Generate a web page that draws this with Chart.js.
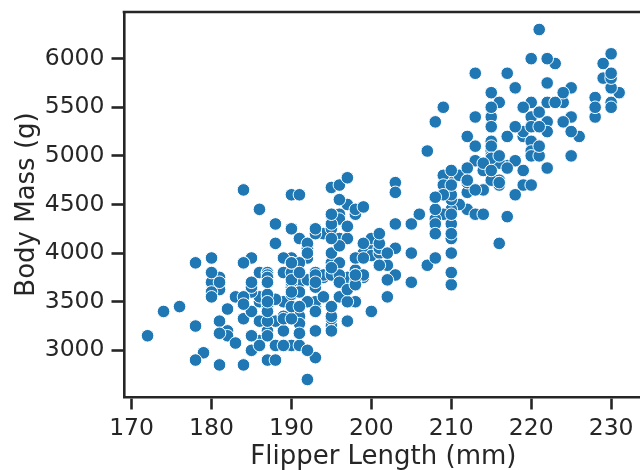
<!DOCTYPE html>
<html>
<head>
<meta charset="utf-8">
<script src="https://cdn.jsdelivr.net/npm/chart.js@4"></script>
<style>
  html, body { margin: 0; padding: 0; overflow: hidden; background: #fff; }
</style>
</head>
<body>
<canvas id="penguinChart" width="650" height="470"></canvas>
<script>
// tick labels
const xTicks = [170, 180, 190, 200, 210, 220, 230];
const yTicks = [3000, 3500, 4000, 4500, 5000, 5500, 6000];

// [flipper length (mm), body mass (g)]
const adelie = [
  [181,3750],[186,3800],[195,3250],[193,3450],[190,3650],[181,3625],[195,4675],[193,3475],[190,4250],[186,3300],
  [180,3700],[182,3200],[191,3800],[198,4400],[185,3700],[195,3450],[197,4500],[184,3325],[194,4200],[174,3400],
  [180,3600],[189,3800],[185,3950],[180,3800],[187,3800],[183,3550],[187,3200],[172,3150],[180,3950],[178,3250],
  [178,3900],[188,3300],[184,3900],[195,3325],[196,4150],[190,3950],[180,3550],[181,3300],[184,4650],[182,3150],
  [195,3900],[186,3100],[196,4400],[185,3000],[190,4600],[182,3425],[179,2975],[190,3450],[191,4150],[186,3500],
  [188,4300],[190,3450],[200,4050],[187,2900],[191,3700],[186,3550],[193,3800],[181,2850],[194,3750],[185,3150],
  [195,4400],[185,3600],[192,4050],[184,2850],[192,3950],[195,3350],[188,4100],[190,3050],[198,4450],[190,3600],
  [190,3900],[196,3550],[197,4150],[190,3700],[195,4250],[191,3700],[184,3900],[187,3550],[195,4000],[189,3200],
  [196,4700],[187,3800],[193,4200],[191,3350],[194,3550],[190,3800],[189,3500],[189,3950],[190,3600],[202,3550],
  [205,4300],[185,3400],[186,4450],[187,3300],[208,4300],[190,3700],[196,4350],[178,2900],[192,4100],[192,3725],
  [203,4725],[183,3075],[190,4250],[193,2925],[184,3550],[199,3750],[190,3900],[181,3175],[197,4775],[198,3825],
  [191,4600],[193,3200],[197,4275],[191,3900],[196,4075],[188,2900],[199,3775],[189,3350],[189,3325],[187,3150],
  [198,3500],[176,3450],[202,3875],[186,3050],[199,4000],[191,3275],[195,4300],[191,3050],[210,4000],[190,3325],
  [197,3500],[193,3500],[199,4475],[187,3425],[190,3900],[191,3175],[200,3975],[185,3400],[193,4250],[193,3400],
  [187,3475],[188,3050],[190,3725],[192,3000],[185,3650],[190,4250],[184,3475],[195,3450],[193,3750],[187,3700],
  [201,4000]
];

const chinstrap = [
  [192,3500],[196,3900],[193,3650],[188,3525],[197,3725],[198,3950],[178,3250],[197,3750],[195,4150],[198,3700],
  [193,3800],[194,3775],[185,3700],[201,4050],[190,3575],[201,4050],[197,3300],[181,3700],[190,3450],[195,4400],
  [191,3600],[187,3400],[192,2700],[195,3800],[197,3300],[200,4150],[200,3400],[191,3800],[205,3700],[187,3575],
  [201,4100],[187,3775],[203,3775],[195,3200],[199,4100],[195,3775],[210,3675],[192,4000],[205,4000],[210,3800],
  [187,3750],[196,3775],[196,3700],[196,4550],[201,4200],[190,3600],[212,4450],[187,3500],[198,3775],[199,3950],
  [201,3875],[193,3775],[203,4300],[187,3700],[197,3625],[191,3450],[203,4050],[202,3725],[194,3550],[206,4400],
  [189,3050],[195,3850],[207,3875],[202,4000],[193,3700],[210,4725],[198,3675],[198,3775]
];

const gentoo = [
  [211,4500],[230,5700],[210,4450],[218,5700],[215,5400],[210,4550],[211,4800],[219,5200],[209,4400],[215,5150],
  [214,4650],[216,5550],[214,4650],[213,5850],[210,4200],[217,5850],[210,4150],[221,6300],[209,4800],[222,5350],
  [218,5700],[215,5000],[213,4400],[215,5050],[215,5000],[215,5100],[216,4100],[215,5650],[210,4600],[220,5550],
  [222,5250],[209,4700],[207,5050],[230,6050],[220,5150],[220,5400],[213,4950],[219,5250],[208,4350],[208,5350],
  [208,3950],[225,5700],[210,4300],[216,4750],[222,5550],[217,4900],[210,4200],[225,5400],[213,5100],[215,5300],
  [210,4850],[220,5300],[210,4400],[225,5000],[217,4900],[220,5050],[208,4300],[220,5000],[208,4450],[224,5550],
  [208,4200],[221,5300],[214,4400],[231,5650],[219,4700],[230,5700],[214,4650],[229,5800],[220,4700],[223,5550],
  [216,4750],[221,5000],[221,5100],[217,5200],[216,4700],[230,5800],[209,4600],[220,6000],[215,4750],[223,5950],
  [212,4625],[221,5450],[212,4725],[224,5350],[212,4750],[228,5600],[218,4600],[218,5300],[212,4875],[230,5550],
  [218,4950],[228,5400],[212,4750],[224,5650],[214,4850],[226,5200],[216,4925],[222,4875],[203,4625],[225,5250],
  [219,4850],[228,5600],[215,4975],[228,5500],[216,4725],[215,5500],[210,4700],[219,5500],[208,4575],[209,5500],
  [216,5000],[229,5950],[213,4650],[230,5500],[217,4375],[230,5850],[217,4875],[222,6000],[214,4925],[215,4850],
  [222,5750],[212,5200],[213,5400]
];

const points = adelie.concat(chinstrap, gentoo).map(p => ({ x: p[0], y: p[1] }));

const ink = '#262626';
const tickFont = { family: 'DejaVu Sans', size: 23.5 };
const titleFont = { family: 'DejaVu Sans', size: 26, lineHeight: 1 };

// top spine (matplotlib draws it, chart.js doesn't)
const topSpine = {
  id: 'topSpine',
  afterDraw(chart) {
    const { ctx, chartArea: a } = chart;
    ctx.save();
    ctx.strokeStyle = ink;
    ctx.lineWidth = 2.6;
    ctx.beginPath();
    ctx.moveTo(a.left - 1.3, a.top);
    ctx.lineTo(a.right, a.top);
    ctx.stroke();
    ctx.restore();
  }
};

new Chart(document.getElementById('penguinChart').getContext('2d'), {
  type: 'scatter',
  data: {
    datasets: [{
      data: points,
      backgroundColor: '#1f77b4',
      borderColor: '#ffffff',
      borderWidth: 1,
      pointRadius: 6.3,
      pointHoverRadius: 6.3
    }]
  },
  options: {
    responsive: false,
    animation: false,
    layout: { padding: { top: 12, right: 1, left: 0, bottom: 0 } },
    plugins: { legend: { display: false }, tooltip: { enabled: false } },
    scales: {
      x: {
        type: 'linear',
        min: 169.05,
        max: 233.95,
        afterBuildTicks: s => { s.ticks = xTicks.map(v => ({ value: v })); },
        afterFit: s => { s.height = 73; s.paddingLeft = 0; s.paddingRight = 0; },
        grid: { drawOnChartArea: false, tickLength: 12.5, tickWidth: 2.6, tickColor: ink },
        border: { display: true, color: ink, width: 2.6 },
        ticks: { color: ink, font: tickFont, padding: 5, maxRotation: 0, autoSkip: false, callback: v => String(v) },
        title: { display: true, text: 'Flipper Length (mm)', color: ink, font: titleFont, padding: { top: 0, bottom: 0 } }
      },
      y: {
        type: 'linear',
        min: 2520,
        max: 6480,
        afterBuildTicks: s => { s.ticks = yTicks.map(v => ({ value: v })); },
        afterFit: s => { s.width = 124; s.paddingTop = 0; s.paddingBottom = 0; },
        grid: { drawOnChartArea: false, tickLength: 12.5, tickWidth: 2.6, tickColor: ink },
        border: { display: true, color: ink, width: 2.6 },
        ticks: { color: ink, font: tickFont, padding: 7, autoSkip: false, callback: v => String(v) },
        title: { display: true, text: 'Body Mass (g)', color: ink, font: titleFont, padding: { top: 14, bottom: 0 } }
      }
    }
  },
  plugins: [topSpine]
});
</script>
</body>
</html>
